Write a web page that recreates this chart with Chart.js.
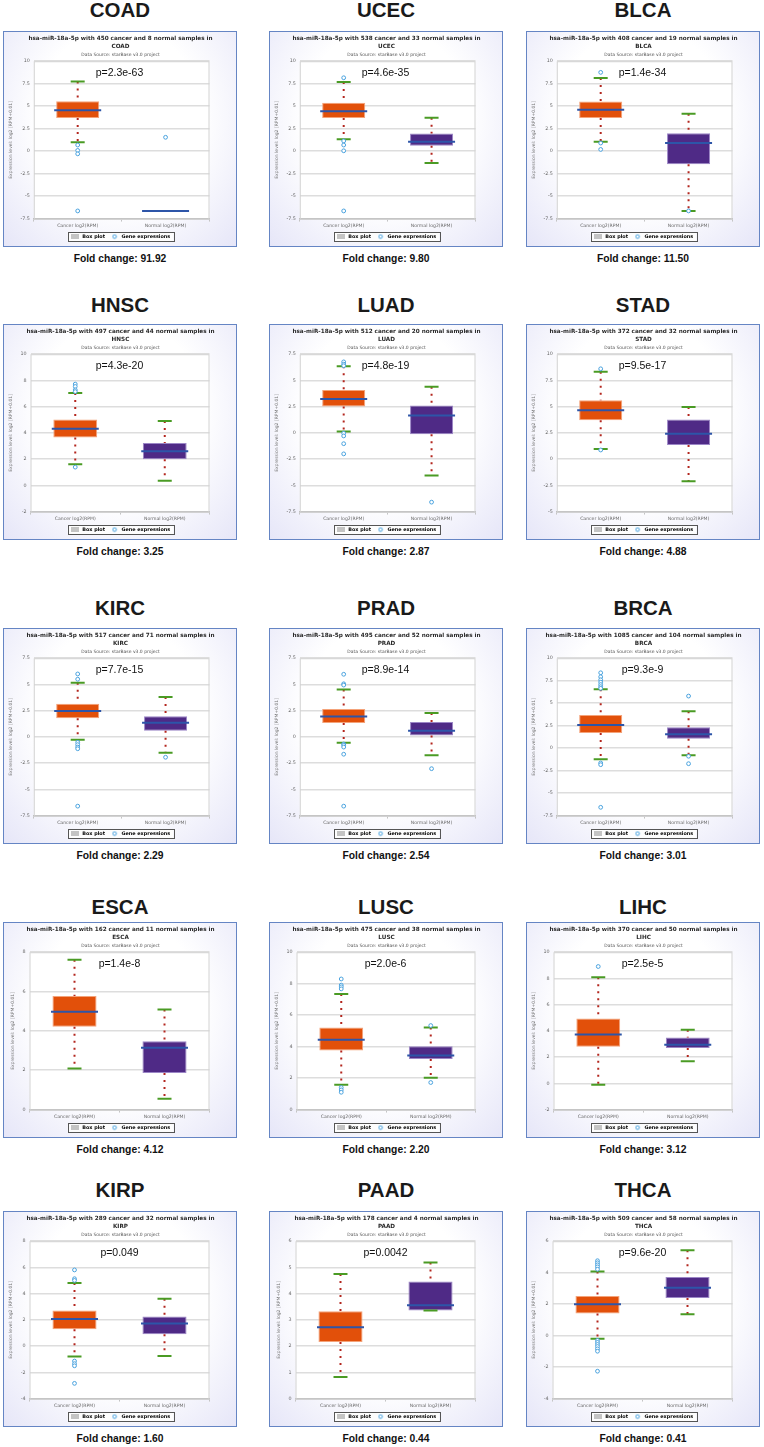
<!DOCTYPE html>
<html>
<head>
<meta charset="utf-8">
<script src="https://cdn.jsdelivr.net/npm/chart.js@4.4.1/dist/chart.umd.min.js"></script>
<style>
  body { margin: 0; background: #fff; width: 764px; height: 1447px; position: relative; overflow: hidden; font-family: "Liberation Sans", Arial, sans-serif; }
  .name { position: absolute; width: 234px; text-align: center; font-weight: bold; font-size: 20.5px; color: #1a1a1a; line-height: 24px; }
  .panel { position: absolute; width: 234px; height: 216px; box-sizing: border-box; border: 1.5px solid #6585c4;
           background: radial-gradient(ellipse at 50% 40%, #ffffff 50%, #e6e6f8 100%); }
  .panel canvas { position: absolute; left: 0; top: 0; }
  .fold { position: absolute; width: 234px; text-align: center; font-weight: bold; font-size: 10.3px; color: #111; line-height: 12px; }
</style>
</head>
<body>
<script>
// cancer types, sample counts and stats
const cancers = ['COAD', 'UCEC', 'BLCA', 'HNSC', 'LUAD', 'STAD', 'KIRC', 'PRAD', 'BRCA', 'ESCA', 'LUSC', 'LIHC', 'KIRP', 'PAAD', 'THCA'];
const cancerN = [450, 538, 408, 497, 512, 372, 517, 495, 1085, 162, 475, 370, 289, 178, 509];
const normalN = [8, 33, 19, 44, 20, 32, 71, 52, 104, 11, 38, 50, 32, 4, 58];
const pValues = ['2.3e-63', '4.6e-35', '1.4e-34', '4.3e-20', '4.8e-19', '9.5e-17', '7.7e-15', '8.9e-14', '9.3e-9', '1.4e-8', '2.0e-6', '2.5e-5', '0.049', '0.0042', '9.6e-20'];
const foldChanges = ['91.92', '9.80', '11.50', '3.25', '2.87', '4.88', '2.29', '2.54', '3.01', '4.12', '2.20', '3.12', '1.60', '0.44', '0.41'];

// y axis ticks
const yMin = [-7.5, -7.5, -7.5, -2, -7.5, -5, -7.5, -7.5, -7.5, 0, 0, -2, -4, 0, -4];
const yMax = [10, 10, 10, 10, 7.5, 10, 7.5, 7.5, 10, 8, 10, 10, 8, 6, 6];
const yStep = [2.5, 2.5, 2.5, 2, 2.5, 2.5, 2.5, 2.5, 2.5, 2, 2, 2, 2, 1, 2];

const catLabels = ['Cancer log2(RPM)', 'Normal log2(RPM)'];

// box stats: [lower whisker, q1, median, q3, upper whisker]
const cancerBox = [
  [0.98, 3.68, 4.55, 5.56, 7.75],
  [1.32, 3.68, 4.44, 5.38, 7.7],
  [1.05, 3.68, 4.59, 5.53, 8.12],
  [1.6, 3.64, 4.31, 5.03, 7.05],
  [0.13, 2.52, 3.23, 4.1, 6.35],
  [0.97, 3.71, 4.65, 5.61, 8.32],
  [-0.26, 1.77, 2.48, 3.16, 5.16],
  [-0.55, 1.32, 1.94, 2.65, 4.52],
  [-1.24, 1.69, 2.56, 3.68, 6.54],
  [2.09, 4.21, 4.97, 5.78, 7.62],
  [1.57, 3.75, 4.44, 5.22, 7.35],
  [-0.1, 2.79, 3.72, 4.94, 8.09],
  [-0.8, 1.29, 2.07, 2.72, 4.81],
  [0.82, 2.16, 2.72, 3.33, 4.75],
  [-0.19, 1.4, 2.0, 2.52, 4.07]
];
const normalBox = [
  [-6.65, -6.65, -6.65, -6.65, -6.65],
  [-1.32, 0.6, 1.05, 1.95, 3.72],
  [-6.65, -1.47, 0.9, 2.0, 4.17],
  [0.36, 1.99, 2.61, 3.23, 4.9],
  [-4.06, -0.13, 1.65, 2.61, 4.39],
  [-2.1, 1.35, 2.42, 3.77, 4.97],
  [-1.52, 0.58, 1.35, 1.97, 3.8],
  [-1.74, 0.13, 0.58, 1.42, 2.29],
  [-0.79, 1.05, 1.54, 2.33, 4.1],
  [0.55, 1.86, 3.14, 3.47, 5.09],
  [2.03, 3.21, 3.43, 4.03, 5.22],
  [1.68, 2.69, 2.95, 3.49, 4.08],
  [-0.75, 0.9, 1.73, 2.25, 3.62],
  [3.36, 3.36, 3.56, 4.46, 5.19],
  [1.36, 2.39, 3.04, 3.73, 5.43]
];

// single expressions outside the whiskers
const cancerOutliers = [
  [0.68, 0.08, -0.3, -6.65],
  [8.16, 1.13, 0.68, 0.04, -6.65],
  [8.76, 0.9, 0.19],
  [7.72, 7.54, 7.28, 7.15, 1.39],
  [6.77, 6.55, 6.4, -0.03, -0.29, -1.03, -2.0],
  [8.61, 0.87],
  [6.0, 5.5, -0.52, -0.74, -0.97, -1.13, -6.6],
  [5.97, 5.06, 4.94, -0.68, -0.8, -0.97, -1.65, -6.6],
  [8.38, 7.93, 7.6, 7.33, 7.07, 6.84, 6.65, -1.65, -1.84, -6.58],
  [],
  [8.3, 7.91, 7.8, 7.67, 1.4, 1.25, 1.1],
  [8.91],
  [5.81, 5.14, 5.01, -1.14, -1.34, -1.5, -2.84],
  [],
  [4.76, 4.63, 4.5, 4.37, 4.22, -0.3, -0.43, -0.56, -0.69, -0.84, -0.99, -2.26]
];
const normalOutliers = [
  [1.54], [], [-6.65], [], [-6.6], [], [-1.94], [-3.03], [5.79, -0.9, -1.73], [], [5.34, 1.72], [], [], [], []
];

// layout of the 3x5 grid
const colLeft = [3, 269, 526];
const rowTop = [31, 324, 628, 922, 1211];
const nameY = [10, 305, 608, 907, 1190];

// small legend markers
function marker(w, h, draw) {
  const c = document.createElement('canvas');
  c.width = w; c.height = h;
  draw(c.getContext('2d'));
  return c;
}
const boxMarker = marker(8, 5, ctx => { ctx.fillStyle = '#c4c4c4'; ctx.fillRect(0, 0, 8, 5); });
const dotMarker = marker(6, 6, ctx => {
  ctx.strokeStyle = '#4aa3df'; ctx.lineWidth = 1;
  ctx.beginPath(); ctx.arc(3, 3, 1.8, 0, Math.PI * 2); ctx.stroke();
});

const panelDecor = {
  id: 'panelDecor',
  beforeDraw(chart) {
    const { ctx, chartArea: a } = chart;
    ctx.save();
    ctx.fillStyle = '#fff';
    ctx.fillRect(a.left, a.top, a.right - a.left, a.bottom - a.top);
    // frame around the legend
    const hb = chart.legend.legendHitBoxes;
    if (hb && hb.length) {
      const l = Math.min(...hb.map(b => b.left)) - 3;
      const r = Math.max(...hb.map(b => b.left + b.width)) + 3;
      const t = hb[0].top - 2;
      const h = hb[0].height + 4;
      ctx.fillStyle = '#fdfdfd';
      ctx.fillRect(l, t, r - l, h);
      ctx.strokeStyle = '#555';
      ctx.lineWidth = 1;
      ctx.strokeRect(Math.round(l) + 0.5, Math.round(t) + 0.5, Math.round(r - l), Math.round(h));
    }
    ctx.restore();
  },
  beforeDatasetsDraw(chart) {
    const { ctx, chartArea: a } = chart;
    ctx.save();
    ctx.strokeStyle = '#d2d2d2';
    ctx.lineWidth = 1;
    ctx.strokeRect(a.left + 0.5, a.top + 0.5, a.right - a.left - 1, a.bottom - a.top);
    ctx.restore();
  },
  afterDraw(chart) {
    const { ctx, chartArea: a } = chart;
    ctx.save();
    ctx.font = '10.5px "Liberation Sans", Arial, sans-serif';
    ctx.fillStyle = '#111';
    ctx.textAlign = 'center';
    ctx.textBaseline = 'middle';
    ctx.fillText('p=' + chart.options.plugins.panelDecor.p, chart.width / 2, a.top + 12);
    ctx.restore();
  }
};

function makeChart(canvas, i) {
  const c = cancerBox[i], n = normalBox[i];
  const whiskers = [];
  [c, n].forEach((s, k) => {
    const x = catLabels[k];
    whiskers.push({ x, y: s[4] }, { x, y: s[3] }, { x, y: null }, { x, y: s[1] }, { x, y: s[0] }, { x, y: null });
  });
  const outliers = cancerOutliers[i].map(y => ({ x: catLabels[0], y }))
    .concat(normalOutliers[i].map(y => ({ x: catLabels[1], y })));

  return new Chart(canvas.getContext('2d'), {
    type: 'bar',
    data: {
      labels: catLabels,
      datasets: [
        {
          type: 'line', label: 'Gene expressions', data: outliers, showLine: false,
          pointStyle: 'circle', pointRadius: 1.9, borderWidth: 1,
          borderColor: '#4aa3df', backgroundColor: '#ffffff'
        },
        {
          type: 'line', label: 'median', data: [c[2], n[2]], showLine: false,
          pointStyle: 'line', pointRadius: 23.5, borderWidth: 2, borderColor: '#2d55a8'
        },
        {
          type: 'line', label: 'caps', data: [c[4], n[4]], showLine: false,
          pointStyle: 'line', pointRadius: 7, borderWidth: 2, borderColor: '#4a9b24'
        },
        {
          type: 'line', label: 'caps low', data: [c[0], n[0]], showLine: false,
          pointStyle: 'line', pointRadius: 7, borderWidth: 2, borderColor: '#4a9b24'
        },
        {
          type: 'line', label: 'whiskers', data: whiskers, spanGaps: false, pointRadius: 0,
          borderColor: '#b3261e', borderWidth: 2, borderDash: [2, 5]
        },
        {
          label: 'Box plot', data: [[c[1], c[3]], [n[1], n[3]]],
          backgroundColor: ['#e2500a', '#4f2a86'], borderColor: ['#f4a37a', '#9b86c6'],
          borderWidth: 1, borderSkipped: false, barPercentage: 0.49, categoryPercentage: 1
        }
      ]
    },
    options: {
      responsive: false,
      animation: false,
      events: [],
      layout: { padding: { left: 4, right: 2, top: 0, bottom: -4 } },
      scales: {
        x: {
          offset: true,
          grid: { drawOnChartArea: false, offset: true, color: '#c4c4c4', tickLength: 3 },
          border: { color: '#bcbcbc', width: 1.5 },
          ticks: { font: { family: 'DejaVu Sans', size: 4.6 }, color: '#666', padding: 1, maxRotation: 0 }
        },
        y: {
          min: yMin[i], max: yMax[i],
          ticks: { stepSize: yStep[i], font: { family: 'DejaVu Sans', size: 4.8 }, color: '#666', padding: 4 },
          grid: { color: '#dddddd', lineWidth: 1.5, drawTicks: false },
          border: { display: false },
          title: {
            display: true, text: 'Expression level: log2 [RPM+0.01]',
            font: { family: 'DejaVu Sans', size: 4.5 }, color: '#777', padding: { top: 0, bottom: 3 }
          }
        }
      },
      plugins: {
        panelDecor: { p: pValues[i] },
        tooltip: { enabled: false },
        title: {
          display: true,
          text: ['hsa-miR-18a-5p with ' + cancerN[i] + ' cancer and ' + normalN[i] + ' normal samples in', cancers[i]],
          font: { family: 'DejaVu Sans', weight: 'bold', size: 5.7, lineHeight: 1.3 },
          color: '#2a2a2a', padding: { top: 3, bottom: 0 }
        },
        subtitle: {
          display: true, text: 'Data Source: starBase v3.0 project',
          font: { family: 'DejaVu Sans', size: 4.5 }, color: '#555',
          padding: { top: 2, bottom: 4 }
        },
        legend: {
          position: 'bottom',
          onClick: null,
          labels: {
            font: { family: 'DejaVu Sans', weight: 'bold', size: 4.9 },
            color: '#333', usePointStyle: true, pointStyleWidth: 9, padding: 5,
            generateLabels: () => [
              { text: 'Box plot', pointStyle: boxMarker, fillStyle: '#c4c4c4', strokeStyle: '#c4c4c4', lineWidth: 0, hidden: false, datasetIndex: 5 },
              { text: 'Gene expressions', pointStyle: dotMarker, fillStyle: '#fff', strokeStyle: '#4aa3df', lineWidth: 1, hidden: false, datasetIndex: 0 }
            ]
          }
        }
      }
    },
    plugins: [panelDecor]
  });
}

cancers.forEach((name, i) => {
  const col = i % 3, row = Math.floor(i / 3);
  const left = colLeft[col], top = rowTop[row];

  const title = document.createElement('div');
  title.className = 'name';
  title.style.left = left + 'px';
  title.style.top = (nameY[row] - 12) + 'px';
  title.textContent = name;
  document.body.appendChild(title);

  const panel = document.createElement('div');
  panel.className = 'panel';
  panel.style.left = left + 'px';
  panel.style.top = top + 'px';
  const canvas = document.createElement('canvas');
  canvas.width = 231;
  canvas.height = 213;
  panel.appendChild(canvas);
  document.body.appendChild(panel);

  const fold = document.createElement('div');
  fold.className = 'fold';
  fold.style.left = left + 'px';
  fold.style.top = (top + 216 + 6) + 'px';
  fold.textContent = 'Fold change: ' + foldChanges[i];
  document.body.appendChild(fold);

  makeChart(canvas, i);
});
</script>
</body>
</html>
